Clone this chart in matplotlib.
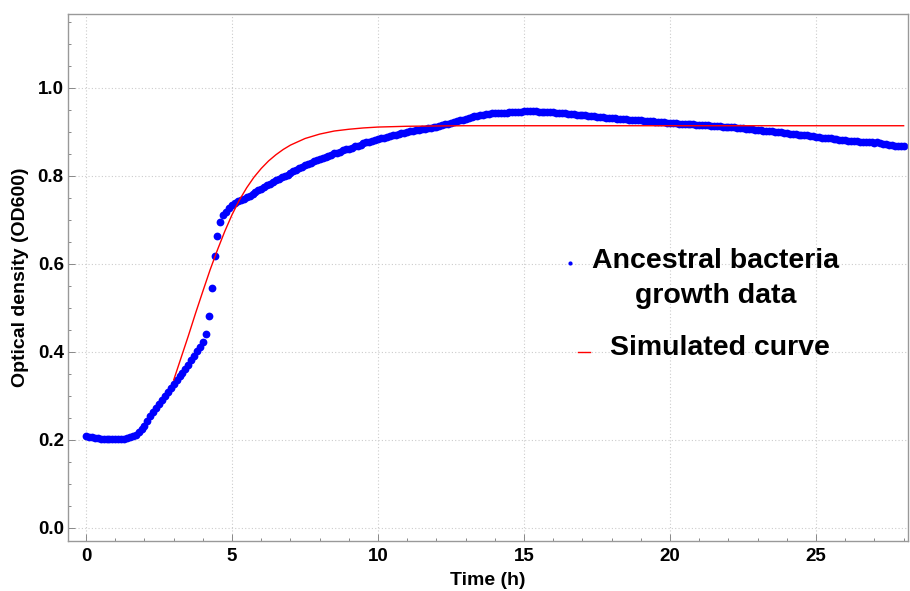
import numpy as np
import matplotlib
matplotlib.use("Agg")
import matplotlib.pyplot as plt
from matplotlib.ticker import MultipleLocator, FormatStrFormatter

plt.rcParams['font.family'] = ['Liberation Sans', 'DejaVu Sans']
plt.rcParams['font.weight'] = 'bold'

# measured every 0.1 h from 0 to 28 h
time_step = 0.1
od_data = [
    0.209, 0.207, 0.206, 0.205, 0.204, 0.203, 0.203, 0.202, 0.202, 0.202,  # 0 h
    0.202, 0.202, 0.203, 0.203, 0.204, 0.206, 0.209, 0.212, 0.217, 0.224,  # 1 h
    0.232, 0.243, 0.255, 0.264, 0.273, 0.282, 0.291, 0.299, 0.308, 0.318,  # 2 h
    0.328, 0.337, 0.345, 0.353, 0.362, 0.371, 0.381, 0.391, 0.401, 0.411,  # 3 h
    0.423, 0.441, 0.482, 0.545, 0.617, 0.663, 0.695, 0.711, 0.717, 0.726,  # 4 h
    0.733, 0.739, 0.743, 0.745, 0.748, 0.751, 0.755, 0.759, 0.763, 0.767,  # 5 h
    0.771, 0.775, 0.779, 0.782, 0.786, 0.790, 0.793, 0.797, 0.800, 0.803,  # 6 h
    0.806, 0.810, 0.813, 0.817, 0.820, 0.824, 0.827, 0.830, 0.833, 0.836,  # 7 h
    0.838, 0.841, 0.843, 0.846, 0.848, 0.851, 0.853, 0.855, 0.858, 0.860,  # 8 h
    0.862, 0.864, 0.867, 0.869, 0.871, 0.874, 0.876, 0.878, 0.880, 0.882,  # 9 h
    0.884, 0.885, 0.887, 0.889, 0.890, 0.892, 0.894, 0.895, 0.897, 0.898,  # 10 h
    0.900, 0.901, 0.902, 0.904, 0.905, 0.906, 0.907, 0.908, 0.909, 0.911,  # 11 h
    0.912, 0.914, 0.915, 0.917, 0.918, 0.920, 0.922, 0.924, 0.926, 0.928,  # 12 h
    0.930, 0.932, 0.934, 0.935, 0.937, 0.938, 0.939, 0.940, 0.941, 0.942,  # 13 h
    0.942, 0.943, 0.943, 0.944, 0.944, 0.945, 0.945, 0.946, 0.946, 0.946,  # 14 h
    0.947, 0.947, 0.947, 0.947, 0.947, 0.946, 0.946, 0.946, 0.945, 0.945,  # 15 h
    0.945, 0.944, 0.944, 0.943, 0.942, 0.941, 0.941, 0.940, 0.939, 0.939,  # 16 h
    0.938, 0.938, 0.937, 0.936, 0.935, 0.934, 0.934, 0.933, 0.932, 0.932,  # 17 h
    0.931, 0.931, 0.930, 0.930, 0.929, 0.929, 0.928, 0.927, 0.927, 0.926,  # 18 h
    0.926, 0.925, 0.925, 0.924, 0.924, 0.923, 0.923, 0.922, 0.922, 0.921,  # 19 h
    0.921, 0.920, 0.920, 0.919, 0.919, 0.918, 0.918, 0.917, 0.917, 0.916,  # 20 h
    0.916, 0.916, 0.915, 0.915, 0.914, 0.914, 0.913, 0.913, 0.912, 0.912,  # 21 h
    0.911, 0.911, 0.910, 0.909, 0.909, 0.908, 0.907, 0.907, 0.906, 0.905,  # 22 h
    0.905, 0.904, 0.903, 0.902, 0.902, 0.901, 0.900, 0.899, 0.899, 0.898,  # 23 h
    0.897, 0.896, 0.896, 0.895, 0.894, 0.893, 0.892, 0.892, 0.891, 0.890,  # 24 h
    0.889, 0.888, 0.887, 0.886, 0.886, 0.885, 0.884, 0.883, 0.882, 0.882,  # 25 h
    0.881, 0.880, 0.880, 0.879, 0.879, 0.878, 0.877, 0.877, 0.876, 0.876,  # 26 h
    0.875, 0.876, 0.874, 0.873, 0.872, 0.871, 0.870, 0.869, 0.868, 0.867,  # 27 h
    0.869,                                                                 # 28 h
]
time_data = np.arange(len(od_data)) * time_step

# simulated curve
sim_time = [3.0, 3.25, 3.5, 3.75, 4.0, 4.25, 4.5, 4.75, 5.0, 5.25, 5.5, 5.75,
            6.0, 6.25, 6.5, 6.75, 7.0, 7.5, 8.0, 8.5, 9.0, 9.5, 10.0, 11.0,
            12.0, 13.0, 28.0]
sim_od = [0.336, 0.386, 0.436, 0.488, 0.538, 0.587, 0.632, 0.674, 0.712, 0.745, 0.773, 0.797,
          0.817, 0.834, 0.848, 0.860, 0.870, 0.885, 0.895, 0.902, 0.906, 0.909, 0.911, 0.9128,
          0.9135, 0.914, 0.914]

fig = plt.figure(figsize=(9.1, 5.91), dpi=100)
ax = fig.add_axes([68 / 910, 50 / 591, 840 / 910, 527 / 591])

ax.plot(time_data, od_data, 'o', color='#0000ff', markersize=5.6, markeredgewidth=0, zorder=2)
ax.plot(sim_time, sim_od, '-', color='#ff0000', linewidth=1.0, zorder=3)

ax.set_xlim(-0.62, 28.15)
ax.set_ylim(-0.03, 1.168)
ax.xaxis.set_major_locator(MultipleLocator(5))
ax.xaxis.set_minor_locator(MultipleLocator(1))
ax.yaxis.set_major_locator(MultipleLocator(0.2))
ax.yaxis.set_minor_locator(MultipleLocator(0.05))
ax.yaxis.set_major_formatter(FormatStrFormatter('%.1f'))

ax.grid(True, which='major', color='#cccccc', linestyle=(0, (1, 2)), linewidth=0.8)
ax.tick_params(which='both', direction='in', color='#888888', labelsize=13.5, width=0.7)
ax.tick_params(which='major', length=5)
ax.tick_params(which='minor', length=2.5)
ax.tick_params(axis='y', pad=3)
ax.tick_params(axis='x', pad=5)
for s in ax.spines.values():
    s.set_color('#999999')
    s.set_linewidth(1.0)

ax.set_xlabel('Time (h)', fontsize=14, fontweight='bold', labelpad=5)
ax.set_ylabel('Optical density (OD600)', fontsize=14, fontweight='bold', labelpad=6)

# legend, drawn by hand like the original
ax.plot([0.5976], [0.5275], 'o', color='#0000ff', markersize=3, markeredgewidth=0,
        transform=ax.transAxes, clip_on=False)
ax.text(0.771, 0.499, 'Ancestral bacteria\ngrowth data', transform=ax.transAxes,
        ha='center', va='center', multialignment='center', fontsize=20.5, fontweight='bold',
        linespacing=1.45)
ax.plot([0.607, 0.622], [0.359, 0.359], '-', color='#ff0000', linewidth=1.0,
        transform=ax.transAxes, clip_on=False)
ax.text(0.776, 0.367, 'Simulated curve', transform=ax.transAxes,
        ha='center', va='center', fontsize=20.5, fontweight='bold')

fig.savefig('out.png', dpi=100)
